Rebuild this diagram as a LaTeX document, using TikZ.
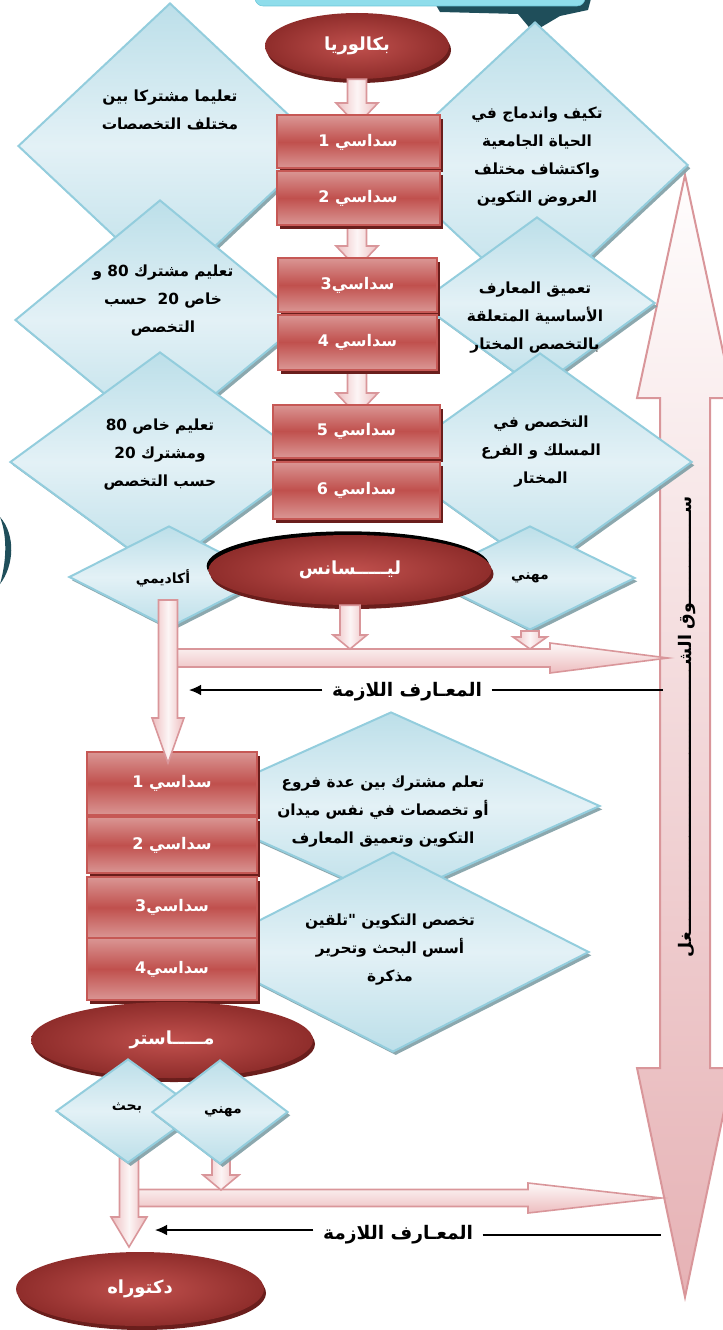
\documentclass[tikz,border=0pt]{standalone}
\usepackage{fontspec}
\usepackage{xcolor}
\usepackage{tikz}
\usetikzlibrary{arrows.meta}
\usetikzlibrary{shapes.geometric}
\usetikzlibrary{shadows}
\usetikzlibrary{calc}

\newfontfamily\arabicfont[Script=Arabic]{DejaVu Sans}
\TeXXeTstate=1
\newcommand{\ar}[1]{\beginR#1\endR}
\newcommand{\pxu}{0.75pt}

\definecolor{diaedge}{HTML}{93CDDD}
\definecolor{dialight}{HTML}{E3F1F6}
\definecolor{diadark}{HTML}{BCDFE9}
\definecolor{diashadow}{HTML}{7F9EA5}
\definecolor{boxred}{HTML}{C0504D}
\definecolor{boxlight}{HTML}{DA9694}
\definecolor{boxedge}{HTML}{C65855}
\definecolor{boxshadow}{HTML}{6A1E1C}
\definecolor{elldark}{HTML}{8F2D2B}
\definecolor{pinkfill}{HTML}{EDBDBF}
\definecolor{pinkedge}{HTML}{D9969A}
\definecolor{jobpink}{HTML}{E6B2B5}
\definecolor{tealdark}{HTML}{1F4E5A}
\definecolor{cyanbox}{HTML}{8FDDEB}
\definecolor{cyanedge}{HTML}{6CC6D8}

\tikzset{
  dia/.style={diamond, draw=diaedge, line width=1.5pt, inner sep=0pt,
    top color=diadark, bottom color=diadark, middle color=dialight,
    drop shadow={shadow xshift=2pt, shadow yshift=-2.5pt, fill=diashadow, opacity=0.9}},
  sem/.style={rectangle, draw=boxedge, line width=1.5pt, inner sep=0pt,
    top color=boxlight, bottom color=boxlight, middle color=boxred,
    drop shadow={shadow xshift=2.5pt, shadow yshift=-3pt, fill=boxshadow, opacity=1},
    text=white, font=\arabicfont\bfseries\fontsize{12}{14}\selectfont},
  grade/.style={ellipse, inner sep=0pt, inner color=boxred, outer color=elldark,
    drop shadow={shadow xshift=1.5pt, shadow yshift=-3pt, fill=boxshadow, opacity=1},
    text=white, font=\arabicfont\bfseries\fontsize{13.5}{15}\selectfont},
  pinkv/.style={draw=pinkedge, line width=1.2pt, left color=pinkfill, right color=pinkfill,
    middle color=white!85!pinkfill},
  pinkh/.style={draw=pinkedge, line width=1.2pt, top color=white!90!pinkfill,
    bottom color=pinkfill},
  jobarrow/.style={draw=pinkedge, line width=1.5pt, top color=white!97!pinkfill,
    bottom color=jobpink},
  dtext/.style={font=\arabicfont\bfseries\fontsize{11.5}{21}\selectfont, align=center, inner sep=0pt},
  stext/.style={font=\arabicfont\bfseries\fontsize{10.5}{12}\selectfont, inner sep=0pt},
  knowtext/.style={font=\arabicfont\bfseries\fontsize{14}{16}\selectfont, inner xsep=7pt},
  know/.style={line width=1pt, -{Latex[length=9pt, width=8pt]}},
  jobtext/.style={font=\arabicfont\bfseries\fontsize{13}{15}\selectfont, inner sep=0pt}
}

\newcommand{\vblock}[5]{%
  \draw[pinkv] let \p1=(#1), \p2=(#2) in
    (\x1-#3*\pxu,\y1) -- (\x1+#3*\pxu,\y1) -- (\x1+#3*\pxu,\y2+#5*\pxu)
    -- (\x1+#4*\pxu,\y2+#5*\pxu) -- (\x1,\y2) -- (\x1-#4*\pxu,\y2+#5*\pxu)
    -- (\x1-#3*\pxu,\y2+#5*\pxu) -- cycle;}
\newcommand{\hblock}[5]{%
  \draw[pinkh] let \p1=(#1), \p2=(#2) in
    (\x1,\y1+#3*\pxu) -- (\x2-#5*\pxu,\y1+#3*\pxu) -- (\x2-#5*\pxu,\y1+#4*\pxu)
    -- (\x2,\y1) -- (\x2-#5*\pxu,\y1-#4*\pxu) -- (\x2-#5*\pxu,\y1-#3*\pxu)
    -- (\x1,\y1-#3*\pxu) -- cycle;}

\begin{document}
\begin{tikzpicture}[x=0.75pt, y=-0.75pt]
    \useasboundingbox (0,0) rectangle (723,1330);

    \fill[tealdark] (430,-5) -- (592,-5) -- (588,10) -- (560,16) -- (533,32) -- (518,14) -- (440,12) -- cycle;
    \draw[draw=cyanedge, fill=cyanbox, rounded corners=6pt] (255,-30) rectangle (585,6);
    \fill[tealdark] (0,517) .. controls (16,535) and (14,566) .. (0,584) .. controls (6,563) and (8,538) .. (0,517) -- cycle;

    \coordinate (jtop) at (685,175);
    \coordinate (jbot) at (685,1297);
    \draw[jobarrow] (jtop) -- (733,398) -- (710,398) -- (710,1068) -- (733,1068) -- (jbot)
        -- (637,1068) -- (660,1068) -- (660,398) -- (637,398) -- cycle;

    \node[dia, minimum width=304*\pxu, minimum height=286*\pxu] (dl1) at (170,146) {};
    \node[dia, minimum width=290*\pxu, minimum height=240*\pxu] (dl2) at (160,320) {};
    \node[dia, minimum width=300*\pxu, minimum height=220*\pxu] (dl3) at (160,462) {};
    \node[dia, minimum width=306*\pxu, minimum height=286*\pxu] (dr1) at (535,165) {};
    \node[dia, minimum width=236*\pxu, minimum height=172*\pxu] (dr2) at (537,303) {};
    \node[dia, minimum width=304*\pxu, minimum height=218*\pxu] (dr3) at (540,462) {};

    \node[grade, minimum width=184*\pxu, minimum height=66*\pxu] (bac) at (357,46) {\ar{بكالوريا}};
    \coordinate (s1tip) at (357,125);
    \coordinate (s3tip) at (357,268);
    \coordinate (s5tip) at (357,415);
    \vblock{bac.south}{s1tip}{9.5}{21}{22}
    \vblock{357,224}{s3tip}{9.5}{21}{22}
    \vblock{357,368}{s5tip}{9.5}{21}{22}

    \node[sem, minimum width=163*\pxu, minimum height=53*\pxu] (s1) at (358,142) {\ar{سداسي 1}};
    \node[sem, minimum width=163*\pxu, minimum height=54*\pxu] (s2) at (358,198) {\ar{سداسي 2}};
    \node[sem, minimum width=159*\pxu, minimum height=54*\pxu] (s3) at (357.5,285) {\ar{سداسي\beginL 3\endL}};
    \node[sem, minimum width=159*\pxu, minimum height=55*\pxu] (s4) at (357.5,342) {\ar{سداسي 4}};
    \node[sem, minimum width=167*\pxu, minimum height=53*\pxu] (s5) at (356.5,431) {\ar{سداسي 5}};
    \node[sem, minimum width=167*\pxu, minimum height=57*\pxu] (s6) at (356.5,490) {\ar{سداسي 6}};

    \node[dia, minimum width=200*\pxu, minimum height=102*\pxu] (acad) at (169,577) {};
    \node[dia, minimum width=210*\pxu, minimum height=104*\pxu] (prof) at (530,578) {};
    \fill[black] (348,566) ellipse [x radius=106pt, y radius=26pt];
    \node[grade, minimum width=283*\pxu, minimum height=70*\pxu] (lic) at (350,570) {\ar{ليـــــسانس}};

    \coordinate (hstart1) at (168,658);
    \coordinate (jleft1) at (668,658);
    \coordinate (lictip) at (350,649);
    \coordinate (proftip) at (530,649);
    \hblock{hstart1}{jleft1}{9}{15}{118}
    \vblock{lic.south}{lictip}{10}{17}{14}
    \vblock{prof.south}{proftip}{9}{17}{12}

    \node[knowtext] (kn1) at (407,692) {\ar{المعـارف اللازمة}};
    \coordinate (kn1tip) at (189,690);
    \coordinate (kn1end) at (663,690);
    \draw[know] (kn1.west |- kn1tip) -- (kn1tip);
    \draw[line width=1pt] (kn1.east |- kn1end) -- (kn1end);

    \node[dia, minimum width=418*\pxu, minimum height=188*\pxu] (da) at (391,806) {};
    \node[dia, minimum width=392*\pxu, minimum height=200*\pxu] (db) at (393,952) {};

    \node[sem, minimum width=170*\pxu, minimum height=63*\pxu] (m1) at (172,783.5) {\ar{سداسي 1}};
    \node[sem, minimum width=170*\pxu, minimum height=56*\pxu] (m2) at (172,845) {\ar{سداسي 2}};
    \node[sem, minimum width=170*\pxu, minimum height=61*\pxu] (m3) at (172,907.5) {\ar{سداسي\beginL 3\endL}};
    \node[sem, minimum width=170*\pxu, minimum height=62*\pxu] (m4) at (172,969) {\ar{سداسي\beginL 4\endL}};

    \coordinate (acadfoot) at (168,600);
    \coordinate (acadtip) at (168,763);
    \vblock{acadfoot}{acadtip}{9.5}{16}{45}

    \node[grade, minimum width=282*\pxu, minimum height=76*\pxu] (mas) at (172,1040) {\ar{مـــــاستر}};

    \coordinate (hstart2) at (129,1198);
    \coordinate (jleft2) at (661,1198);
    \coordinate (mihtip) at (221,1190);
    \coordinate (bahtip) at (129,1247);
    \hblock{hstart2}{jleft2}{8.5}{15}{133}
    \vblock{221,1111}{mihtip}{9}{18}{15}
    \vblock{129,1111}{bahtip}{9.5}{18}{30}

    \node[dia, minimum width=144*\pxu, minimum height=104*\pxu] (bahth) at (128,1111) {};
    \node[dia, minimum width=136*\pxu, minimum height=104*\pxu] (mihani) at (220,1112) {};

    \node[grade, minimum width=248*\pxu, minimum height=74*\pxu] (doc) at (140,1289) {\ar{دكتوراه}};

    \node[knowtext] (kn2) at (398,1235) {\ar{المعـارف اللازمة}};
    \coordinate (kn2tip) at (155,1230);
    \coordinate (kn2end) at (661,1235);
    \draw[know] (kn2.west |- kn2tip) -- (kn2tip);
    \draw[line width=1pt] (kn2.east |- kn2end) -- (kn2end);

    \node[dtext] (tl1) at (170,110) {\ar{تعليما مشتركا بين}\\\ar{مختلف التخصصات}};
    \node[dtext] (tl2) at (163,301) {\ar{تعليم مشترك \beginL 80\endL{} و}\\\ar{خاص \beginL 20\endL{}\ \ حسب}\\\ar{التخصص}};
    \node[dtext] (tl3) at (160,455) {\ar{تعليم خاص \beginL 80\endL}\\\ar{ومشترك \beginL 20\endL}\\\ar{حسب التخصص}};
    \node[dtext] (tr1) at (537,157) {\ar{تكيف واندماج في}\\\ar{الحياة الجامعية}\\\ar{واكتشاف مختلف}\\\ar{العروض التكوين}};
    \node[dtext] (tr2) at (535,318) {\ar{تعميق المعارف}\\\ar{الأساسية المتعلقة}\\\ar{بالتخصص المختار}};
    \node[dtext] (tr3) at (541,452) {\ar{التخصص في}\\\ar{المسلك و الفرع}\\\ar{المختار}};
    \node[dtext] (ta) at (383,812) {\ar{تعلم مشترك بين عدة فروع}\\\ar{أو تخصصات في نفس ميدان}\\\ar{التكوين وتعميق المعارف}};
    \node[dtext] (tb) at (390,950) {\ar{تخصص التكوين \beginL"\endL تلقين}\\\ar{أسس البحث وتحرير}\\\ar{مذكرة}};
    \node[stext] (tacad) at (163,578) {\ar{أكاديمي}};
    \node[stext] (tprof) at (530,578) {\ar{مهني}};
    \node[stext] (tbahth) at (127,1108) {\ar{بحث}};
    \node[stext] (tmihani) at (223,1112) {\ar{مهني}};

    \node[jobtext, rotate=90] (job) at (687,727) {\ar{ســـــــــــــــوق الشـــــــــــــــــــــــــــــــــــــــــــــغل}};
\end{tikzpicture}
\end{document}
